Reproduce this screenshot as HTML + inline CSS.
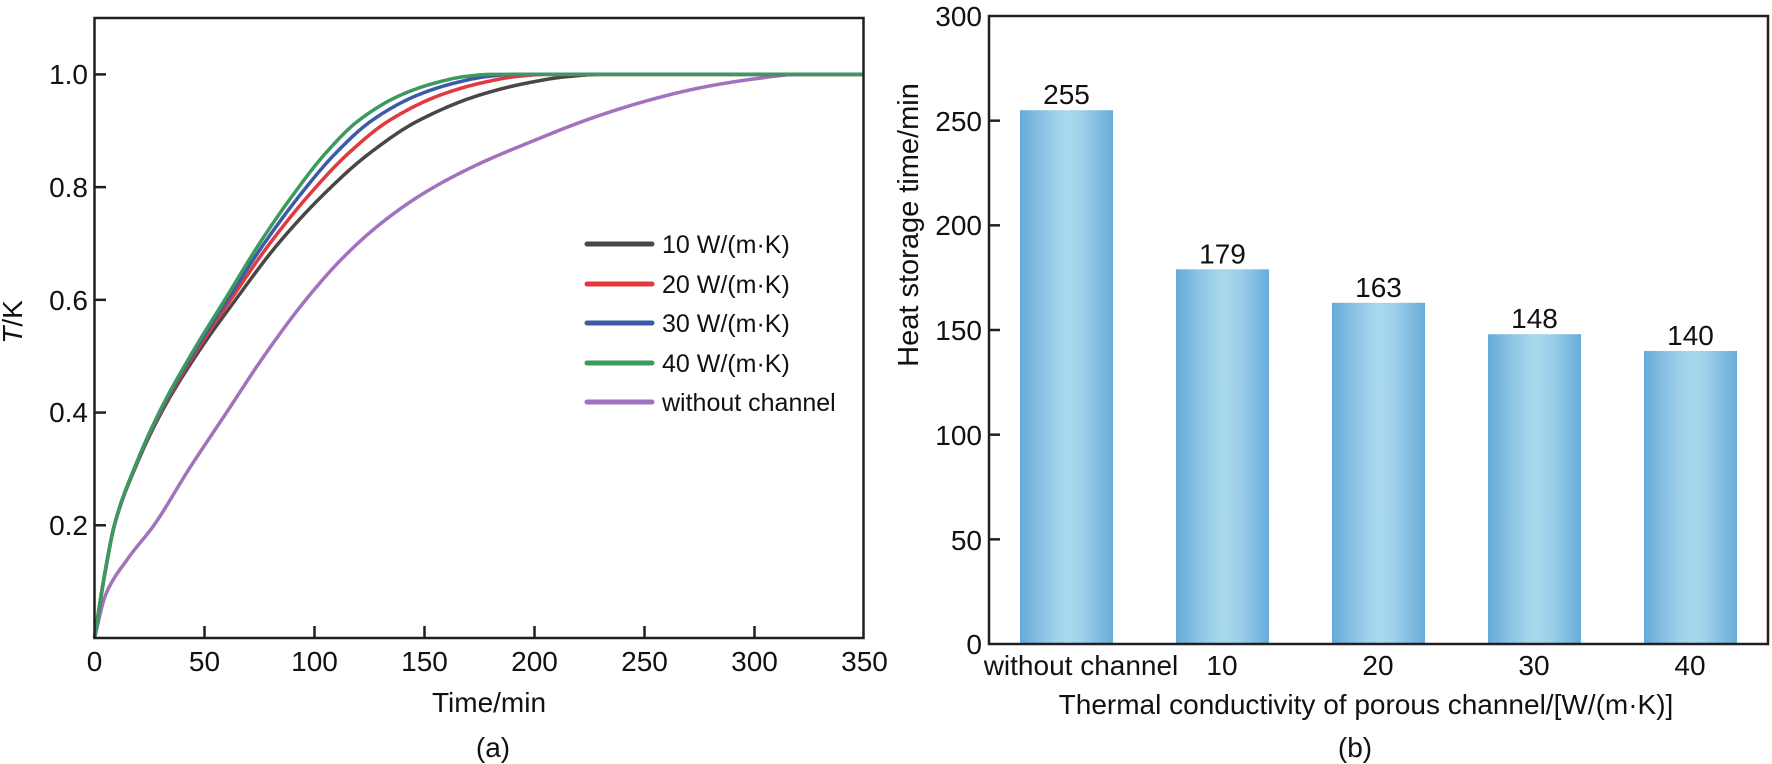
<!DOCTYPE html>
<html><head><meta charset="utf-8"><style>
html,body{margin:0;padding:0;background:#fff;}
svg{display:block;font-family:"Liberation Sans",Arial,sans-serif;}
</style></head><body>
<svg id="s" width="1772" height="764" viewBox="0 0 1772 764" xmlns="http://www.w3.org/2000/svg">
<defs>
<linearGradient id="bg" x1="0" x2="1" y1="0" y2="0">
<stop offset="0" stop-color="#67aad7"/>
<stop offset="0.25" stop-color="#8cc4e5"/>
<stop offset="0.5" stop-color="#aad9ed"/>
<stop offset="0.68" stop-color="#9ccfea"/>
<stop offset="1" stop-color="#68acd9"/>
</linearGradient>
</defs>
<g id="left"></g>
<g id="right"></g>
<rect x="94.5" y="18" width="769" height="620" fill="none" stroke="#231f20" stroke-width="2.5"/>
<g font-size="28" fill="#111" text-anchor="end">
<text x="88" y="84">1.0</text><text x="88" y="197">0.8</text><text x="88" y="310">0.6</text><text x="88" y="422">0.4</text><text x="88" y="535">0.2</text>
</g>
<g font-size="28" fill="#111" text-anchor="middle">
<text x="94.5" y="671">0</text><text x="204.5" y="671">50</text><text x="314.5" y="671">100</text><text x="424.5" y="671">150</text><text x="534.5" y="671">200</text><text x="644.5" y="671">250</text><text x="754.5" y="671">300</text><text x="864.5" y="671">350</text>
<text x="489" y="712">Time/min</text>
<text x="493" y="757">(a)</text>
</g>
<text transform="translate(22,322) rotate(-90)" font-size="28" text-anchor="middle" fill="#111"><tspan font-style="italic">T</tspan>/K</text>
<g stroke-width="5" stroke-linecap="round">
<line x1="587" y1="244" x2="652" y2="244" stroke="#4a4646"/>
<line x1="587" y1="284" x2="652" y2="284" stroke="#e0393e"/>
<line x1="587" y1="323" x2="652" y2="323" stroke="#3b5ba8"/>
<line x1="587" y1="363" x2="652" y2="363" stroke="#3b9a5c"/>
<line x1="587" y1="402" x2="652" y2="402" stroke="#a173be"/>
</g>
<g font-size="25" fill="#111">
<text x="662" y="253">10 W/(m·K)</text>
<text x="662" y="293">20 W/(m·K)</text>
<text x="662" y="332">30 W/(m·K)</text>
<text x="662" y="372">40 W/(m·K)</text>
<text x="662" y="411">without channel</text>
</g>
<rect x="989" y="16" width="779" height="628" fill="none" stroke="#231f20" stroke-width="2.5"/>
<g font-size="28" fill="#111" text-anchor="end">
<text x="982" y="26">300</text><text x="982" y="131">250</text><text x="982" y="235">200</text><text x="982" y="340">150</text><text x="982" y="445">100</text><text x="982" y="550">50</text><text x="982" y="654">0</text>
</g>
<g font-size="28" fill="#111" text-anchor="middle">
<text x="1081" y="675">without channel</text>
<text x="1222" y="675">10</text><text x="1378" y="675">20</text><text x="1534" y="675">30</text><text x="1690" y="675">40</text>
<text x="1366" y="714">Thermal conductivity of porous channel/[W/(m·K)]</text>
<text x="1355" y="757">(b)</text>
</g>
<text transform="translate(918,225) rotate(-90)" font-size="29" text-anchor="middle" fill="#111">Heat storage time/min</text>
</svg>
<script>
var NS="http://www.w3.org/2000/svg";
function el(n,a,p){var e=document.createElementNS(NS,n);for(var k in a)e.setAttribute(k,a[k]);p.appendChild(e);return e;}
var L=document.getElementById('left'),R=document.getElementById('right');
function X(t){return 94.5+t*2.2;} function Y(v){return 638-v*563.6;}
[0.2,0.4,0.6,0.8,1.0].forEach(function(v){el('line',{x1:94.5,x2:106,y1:Y(v),y2:Y(v),stroke:'#231f20','stroke-width':2.5},L);});
[50,100,150,200,250,300].forEach(function(t){el('line',{x1:X(t),x2:X(t),y1:638,y2:626,stroke:'#231f20','stroke-width':2.5},L);});
function mono(pts){var n=pts.length,xs=pts.map(p=>p[0]),ys=pts.map(p=>p[1]);var d=[],m=[];
for(var i=0;i<n-1;i++)d.push((ys[i+1]-ys[i])/(xs[i+1]-xs[i]));
m[0]=d[0];m[n-1]=d[n-2];for(i=1;i<n-1;i++){if(d[i-1]*d[i]<=0)m[i]=0;else{var h0=xs[i]-xs[i-1],h1=xs[i+1]-xs[i];var w1=2*h1+h0,w2=h1+2*h0;m[i]=(w1+w2)/(w1/d[i-1]+w2/d[i]);}}
return function(x){if(x<=xs[0])return ys[0];if(x>=xs[n-1])return ys[n-1];var i=0;while(x>xs[i+1])i++;var h=xs[i+1]-xs[i],t=(x-xs[i])/h,t2=t*t,t3=t2*t;
return (2*t3-3*t2+1)*ys[i]+(t3-2*t2+t)*h*m[i]+(-2*t3+3*t2)*ys[i+1]+(t3-t2)*h*m[i+1];};}
var green=[[0,0],[4.8,0.117],[9,0.2],[19,0.31],[30,0.405],[45,0.51],[60,0.605],[75,0.7],[90,0.785],[105,0.86],[120,0.918],[139,0.963],[155,0.985],[168,0.996],[180,1.0],[350,1.0]];
var gf=mono(green);
function curve(k,col){var d='';for(var i=0;i<=700;i++){var tt=i/700*350;var g=gf(tt/(1+k));var t0=tt/(1+k*g*g);var v=gf(t0);d+=(i?'L':'M')+X(tt).toFixed(1)+','+Y(v).toFixed(1);}el('path',{d:d,fill:'none',stroke:col,'stroke-width':3.5,'stroke-linejoin':'round'},L);}
var purple=[[0,0],[5,0.076],[15,0.14],[27,0.2],[43,0.3],[60,0.4],[77,0.5],[95,0.595],[113,0.675],[130,0.735],[150,0.79],[173,0.838],[200,0.883],[225,0.921],[250,0.952],[275,0.976],[300,0.992],[320,1.0],[350,1.0]];
var pf=mono(purple);
(function(){var d='';for(var i=0;i<=700;i++){var t=i/2;d+=(i?'L':'M')+X(t).toFixed(1)+','+Y(pf(t)).toFixed(1);}el('path',{d:d,fill:'none',stroke:'#a173be','stroke-width':3.5,'stroke-linejoin':'round'},L);})();
curve(0.28,'#4a4646');curve(0.14,'#e0393e');curve(0.06,'#3b5ba8');curve(0,'#3b9a5c');
[50,100,150,200,250].forEach(function(v){var y=644-v*2.0933;el('line',{x1:989,x2:1000,y1:y,y2:y,stroke:'#231f20','stroke-width':2.5},R);});
[255,179,163,148,140].forEach(function(v,i){var x=1020+156*i,y=644-v*2.0933;el('rect',{x:x,y:y,width:93,height:644-y,fill:'url(#bg)'},R);var t=el('text',{x:x+46.5,y:y-6,'font-size':28,'text-anchor':'middle',fill:'#111'},R);t.textContent=v;});
</script>
</body></html>
